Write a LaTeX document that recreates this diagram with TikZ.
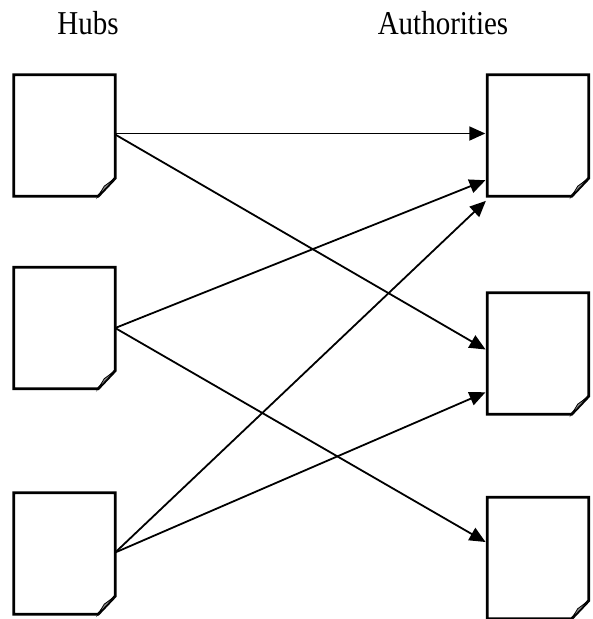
\documentclass[tikz,border=0pt]{standalone}
\usepackage{fontspec}
\setmainfont{Liberation Serif}
\usetikzlibrary{arrows.meta, positioning}

\tikzset{
  page/.style={draw=none, minimum width=101pt, minimum height=121pt, inner sep=0pt},
  pageline/.style={line width=2.8pt, line join=miter},
  fold/.style={line width=0.8pt, fill=black!45},
  link/.style={line width=1.8pt, -{Triangle[length=16pt,width=14pt]}, shorten >=2pt},
  head/.style={font=\fontsize{29}{30}\selectfont, anchor=base, yscale=1.15}
}

\begin{document}
\begin{tikzpicture}[x=1pt,y=-1pt]
\useasboundingbox (0,0) rectangle (593,619);
% headings
\node[head] (hubs) at (88,34) {Hubs};
\node[head] (auth) at (443,34) {Authorities};
% hub pages
\node[page] (h1) at (64.5,135.5) {};
\node[page] (h2) at (64.5,328) {};
\node[page] (h3) at (64.5,553.5) {};
% authority pages
\node[page] (a1) at (538,135.5) {};
\node[page] (a2) at (538,353.5) {};
\node[page] (a3) at (538,558) {};
% dog-eared outlines
\foreach \p in {h1,h2,h3,a1,a2,a3}{
  \draw[pageline] (\p.north west) -- (\p.north east) -- ([yshift=18pt]\p.south east)
    -- ([xshift=-17pt]\p.south east) -- (\p.south west) -- cycle;
  \draw[fold] ([yshift=18pt]\p.south east) -- ([xshift=-11pt,yshift=10pt]\p.south east)
    -- ([xshift=-17pt]\p.south east) -- cycle;
}
% links
\draw[link] ([yshift=2pt]h1.east) -- ([yshift=2pt]a1.west);
\draw[link] ([yshift=1pt]h1.east) -- ([yshift=3pt]a2.west);
\draw[link] (h2.east) -- ([yshift=-44pt]a1.west);
\draw[link] (h2.east) -- ([yshift=15pt]a3.west);
\draw[link] ([yshift=1pt]h3.east) -- ([yshift=-64pt]a1.west);
\draw[link] ([yshift=1pt]h3.east) -- ([yshift=-38pt]a2.west);
\end{tikzpicture}
\end{document}
